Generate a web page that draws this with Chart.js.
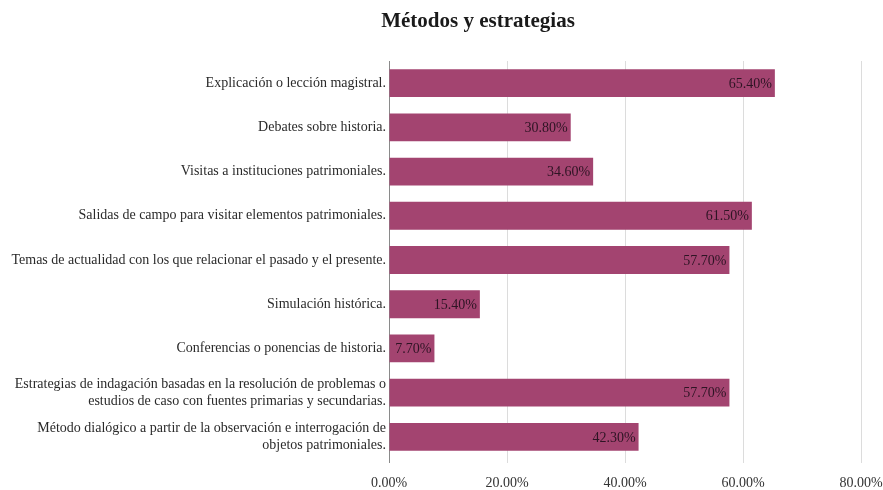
<!DOCTYPE html>
<html>
<head>
<meta charset="utf-8">
<script src="https://cdn.jsdelivr.net/npm/chart.js@4.4.1/dist/chart.umd.min.js"></script>
<style>
  html, body { margin: 0; padding: 0; background: #fff; }
  #wrap { width: 883px; height: 490px; }
</style>
</head>
<body>
<div id="wrap"><canvas id="chart" width="883" height="490"></canvas></div>
<script>
// Categories and percentages
const categories = [
  'Explicación o lección magistral.',
  'Debates sobre historia.',
  'Visitas a instituciones patrimoniales.',
  'Salidas de campo para visitar elementos patrimoniales.',
  'Temas de actualidad con los que relacionar el pasado y el presente.',
  'Simulación histórica.',
  'Conferencias o ponencias de historia.',
  ['Estrategias de indagación basadas en la resolución de problemas o', 'estudios de caso con fuentes primarias y secundarias.'],
  ['Método dialógico a partir de la observación e interrogación de', 'objetos patrimoniales.']
];
const percentages = [65.4, 30.8, 34.6, 61.5, 57.7, 15.4, 7.7, 57.7, 42.3];
const xTicks = [0, 20, 40, 60, 80];
const chartTitle = 'Métodos y estrategias';

const serif = "'Liberation Serif', 'DejaVu Serif', serif";
const barColor = '#a34470';

// Writes the value at the end of each bar
const valueLabels = {
  id: 'valueLabels',
  afterDatasetsDraw(chart) {
    const ctx = chart.ctx;
    const meta = chart.getDatasetMeta(0);
    ctx.save();
    ctx.font = '14px ' + serif;
    ctx.fillStyle = '#2e1424';
    ctx.textAlign = 'right';
    ctx.textBaseline = 'middle';
    meta.data.forEach((bar, i) => {
      ctx.fillText(percentages[i].toFixed(2) + '%', bar.x - 3, bar.y + 1);
    });
    ctx.restore();
  }
};

// Title sits a bit right of the canvas centre
const titleText = {
  id: 'titleText',
  afterDraw(chart) {
    const ctx = chart.ctx;
    ctx.save();
    ctx.font = 'bold 21px ' + serif;
    ctx.fillStyle = '#1a1a1a';
    ctx.textAlign = 'center';
    ctx.textBaseline = 'middle';
    ctx.fillText(chartTitle, 478, 22);
    ctx.restore();
  }
};

new Chart(document.getElementById('chart'), {
  type: 'bar',
  data: {
    labels: categories,
    datasets: [{
      data: percentages,
      backgroundColor: barColor,
      borderWidth: 0,
      barPercentage: 0.9,
      categoryPercentage: 0.7
    }]
  },
  options: {
    indexAxis: 'y',
    responsive: false,
    animation: false,
    layout: { padding: { left: 0, right: 0, top: 61, bottom: 0 } },
    plugins: {
      legend: { display: false },
      tooltip: { enabled: false },
      title: { display: false }
    },
    scales: {
      x: {
        min: 0,
        max: 80,
        afterBuildTicks(scale) {
          scale.ticks = xTicks.map(v => ({ value: v }));
        },
        afterFit(scale) {
          scale.height = 31;
          scale.paddingRight = 22;
        },
        ticks: {
          color: '#333',
          font: { family: serif, size: 14 },
          padding: 12,
          maxRotation: 0,
          callback: v => v.toFixed(2) + '%'
        },
        grid: {
          color: ctx => ctx.tick && ctx.tick.value === 0 ? '#8a8a8a' : '#dcdcdc',
          lineWidth: 1,
          drawTicks: true,
          tickLength: 4
        },
        border: { display: false }
      },
      y: {
        afterFit(scale) { scale.width = 389; },
        ticks: {
          color: '#2a2a2a',
          font: { family: serif, size: 14, lineHeight: 1.2 },
          padding: 3
        },
        grid: { display: false, drawTicks: false },
        border: { display: false }
      }
    }
  },
  plugins: [valueLabels, titleText]
});
</script>
</body>
</html>
